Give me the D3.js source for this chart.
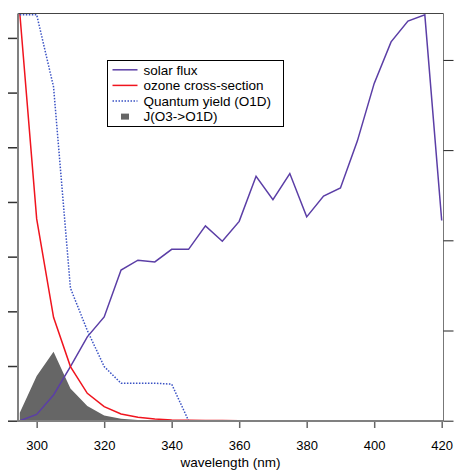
<!DOCTYPE html>
<html lang="en">
<head>
<meta charset="utf-8">
<title>O3 photolysis</title>
<script src="https://d3js.org/d3.v7.min.js"></script>
<style>
  body { margin: 0; background: #fff; }
  svg text { font-family: "Liberation Sans", Arial, Helvetica, sans-serif; fill: #000; }
</style>
</head>
<body>
<script>
// wavelength grid (nm)
var wavelength = [295, 300, 305, 310, 315, 320, 325, 330, 335, 340, 345, 350, 355,
                  360, 365, 370, 375, 380, 385, 390, 395, 400, 405, 410, 415, 420];
// solar flux (right axis, arbitrary units)
var solarFlux = [0.0, 0.07, 0.285, 0.60, 0.93, 1.15, 1.67, 1.78, 1.76, 1.90, 1.90, 2.16, 1.99,
                 2.21, 2.71, 2.45, 2.74, 2.26, 2.49, 2.58, 3.10, 3.74, 4.20, 4.43, 4.50, 2.22];
// ozone cross-section (left axis, 1e-19 cm2)
var ozoneXsec = [7.45, 3.69, 1.89, 0.99, 0.50, 0.256, 0.122, 0.062, 0.031, 0.013, 0.006, 0.003, 0.0015,
                 0.001, 0, 0, 0, 0, 0, 0, 0, 0, 0, 0, 0, 0];
// quantum yield of O(1D)
var quantumYield = [0.9, 0.9, 0.74, 0.294, 0.20, 0.12, 0.083, 0.083, 0.083, 0.081, 0, 0, 0,
                    0, 0, 0, 0, 0, 0, 0, 0, 0, 0, 0, 0, 0];
// J(O3->O1D) spectral contribution (arbitrary units)
var jO1D = [0.0196, 0.11, 0.169, 0.079, 0.036, 0.0128, 0.005, 0.002, 0.0008, 0.0003, 0, 0, 0,
            0, 0, 0, 0, 0, 0, 0, 0, 0, 0, 0, 0, 0];

var xTicks = [300, 320, 340, 360, 380, 400, 420];
var leftTicks = [0, 1, 2, 3, 4, 5, 6, 7];
var rightTicks = [0, 1, 2, 3, 4];

var legendItems = ["solar flux", "ozone cross-section", "Quantum yield (O1D)", "J(O3->O1D)"];

var w = 454, h = 471;
var plotLeft = 18, plotRight = 443.5, plotTop = 13.5, plotBottom = 421;

var svg = d3.select("body").append("svg")
    .attr("width", w)
    .attr("height", h);

// scales - each trace has its own vertical axis (Igor style)
var x = d3.scaleLinear().domain([295, 420]).range([19.8, 441.7]);
var yLeft = d3.scaleLinear().domain([0, 7.45]).range([420.7, 13.3]);
var yRight = d3.scaleLinear().domain([0, 4.517]).range([420.7, 13.3]);
var yQ = d3.scaleLinear().domain([0, 0.9]).range([420.7, 14.7]);
var yJ = d3.scaleLinear().domain([0, 1]).range([420.7, 13.3]);

// J area
var area = d3.area()
    .x(function(d, i) { return x(wavelength[i]); })
    .y0(yJ(0))
    .y1(function(d) { return yJ(d); });

svg.append("path")
    .datum(jO1D)
    .attr("d", area)
    .attr("fill", "#666666");

function lineFor(scale) {
    return d3.line()
        .x(function(d, i) { return x(wavelength[i]); })
        .y(function(d) { return scale(d); });
}

svg.append("path")
    .datum(solarFlux)
    .attr("d", lineFor(yRight))
    .attr("fill", "none")
    .attr("stroke", "#5b3ea6")
    .attr("stroke-width", 1.5);

svg.append("path")
    .datum(ozoneXsec)
    .attr("d", lineFor(yLeft))
    .attr("fill", "none")
    .attr("stroke", "#f0141e")
    .attr("stroke-width", 1.5);

svg.append("path")
    .datum(quantumYield)
    .attr("d", lineFor(yQ))
    .attr("fill", "none")
    .attr("stroke", "#3a52c4")
    .attr("stroke-width", 1.5)
    .attr("stroke-dasharray", "1.5,1.5");

// frame
svg.append("line").attr("x1", plotLeft).attr("x2", plotRight).attr("y1", plotTop).attr("y2", plotTop)
    .attr("stroke", "#444").attr("stroke-width", 1);
svg.append("line").attr("x1", plotRight).attr("x2", plotRight).attr("y1", plotTop).attr("y2", plotBottom)
    .attr("stroke", "#777").attr("stroke-width", 1);
svg.append("line").attr("x1", plotLeft).attr("x2", plotLeft).attr("y1", plotTop).attr("y2", plotBottom + 1)
    .attr("stroke", "#808080").attr("stroke-width", 2);
svg.append("line").attr("x1", plotLeft).attr("x2", plotRight).attr("y1", plotBottom).attr("y2", plotBottom)
    .attr("stroke", "#808080").attr("stroke-width", 2);

// axes
var leftAxis = svg.append("g")
    .attr("transform", "translate(" + (plotLeft - 1) + ",0)")
    .call(d3.axisLeft(yLeft).tickValues(leftTicks).tickSize(9).tickSizeOuter(0).tickFormat(""));
leftAxis.select(".domain").remove();
leftAxis.selectAll(".tick line").attr("stroke", "#333").attr("stroke-width", 1.5);

var rightAxis = svg.append("g")
    .attr("transform", "translate(" + plotRight + ",0)")
    .call(d3.axisRight(yRight).tickValues(rightTicks).tickSize(10).tickSizeOuter(0).tickFormat(""));
rightAxis.select(".domain").remove();
rightAxis.selectAll(".tick line").attr("stroke", "#222").attr("stroke-width", 1);

var bottomAxis = svg.append("g")
    .attr("transform", "translate(0," + (plotBottom + 1) + ")")
    .call(d3.axisBottom(x).tickValues(xTicks).tickSize(6).tickSizeOuter(0).tickPadding(13));
bottomAxis.select(".domain").remove();
bottomAxis.selectAll(".tick line").attr("stroke", "#666").attr("stroke-width", 1.5);
bottomAxis.selectAll(".tick text")
    .attr("font-size", 13)
    .attr("font-family", "Liberation Sans, Arial, sans-serif")
    .attr("fill", "#000");

svg.append("text")
    .attr("x", 230.5)
    .attr("y", 467)
    .attr("text-anchor", "middle")
    .attr("font-size", 13.5)
    .text("wavelength (nm)");

// legend
var legend = svg.append("g").attr("transform", "translate(107.5,60.5)");
legend.append("rect")
    .attr("width", 176)
    .attr("height", 66)
    .attr("fill", "#fff")
    .attr("stroke", "#000")
    .attr("stroke-width", 1);

var swatch = [
    { stroke: "#5b3ea6", dash: null },
    { stroke: "#f0141e", dash: null },
    { stroke: "#3a52c4", dash: "1.5,1.5" }
];
var rowY = function(i) { return 9.3 + i * 15.6; };

legendItems.forEach(function(label, i) {
    if (i < 3) {
        legend.append("line")
            .attr("x1", 5).attr("x2", 30)
            .attr("y1", rowY(i)).attr("y2", rowY(i))
            .attr("stroke", swatch[i].stroke)
            .attr("stroke-width", 1.5)
            .attr("stroke-dasharray", swatch[i].dash);
    } else {
        legend.append("rect")
            .attr("x", 13.5).attr("y", rowY(i) - 3)
            .attr("width", 8).attr("height", 6)
            .attr("fill", "#666666");
    }
    legend.append("text")
        .attr("x", 36)
        .attr("y", rowY(i) + 4.8)
        .attr("font-size", 13.5)
        .text(label);
});
</script>
</body>
</html>
